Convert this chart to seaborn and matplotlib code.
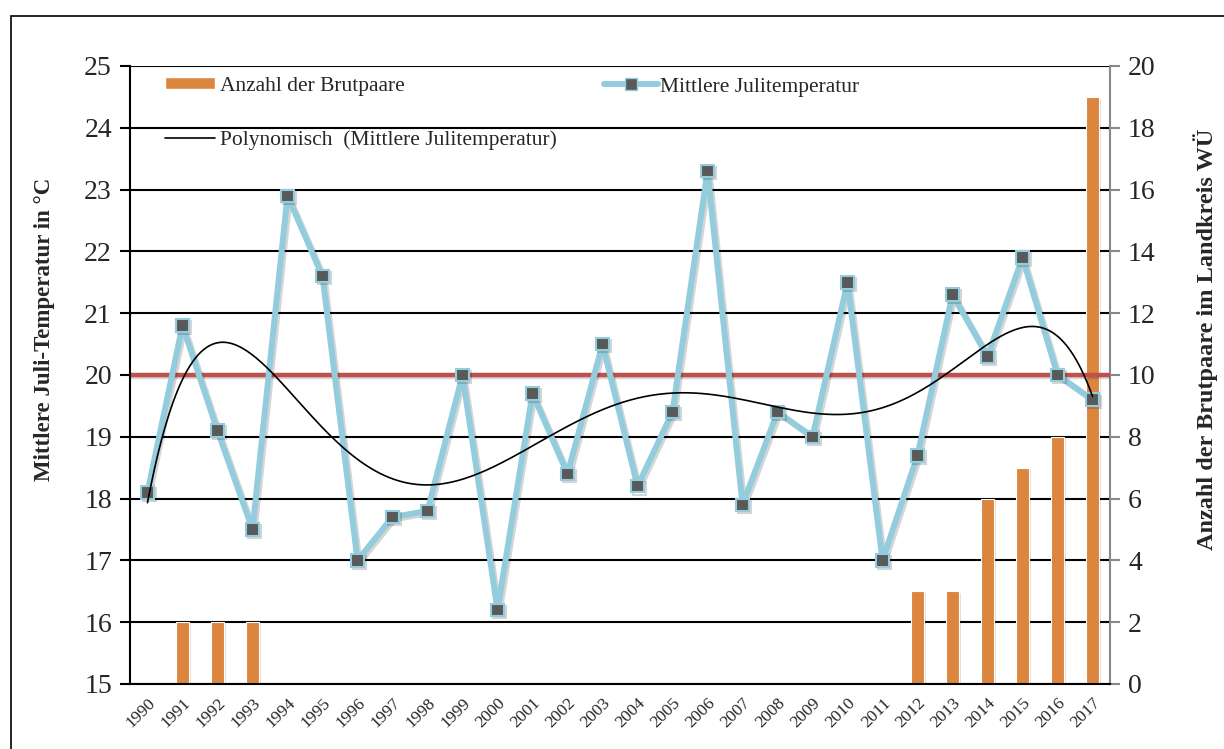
import numpy as np
import matplotlib
matplotlib.use("Agg")
import matplotlib.pyplot as plt
import matplotlib.patheffects as pe
from matplotlib.lines import Line2D
from matplotlib.patches import Patch, Rectangle
import seaborn as sns

# DATA
years = [str(y) for y in range(1990, 2018)]
temps = [18.1, 20.8, 19.1, 17.5, 22.9, 21.6, 17.0, 17.7, 17.8, 20.0,
         16.2, 19.7, 18.4, 20.5, 18.2, 19.4, 23.3, 17.9, 19.4, 19.0,
         21.5, 17.0, 18.7, 21.3, 20.3, 21.9, 20.0, 19.6]
pairs = [0, 2, 2, 2, 0, 0, 0, 0, 0, 0,
         0, 0, 0, 0, 0, 0, 0, 0, 0, 0,
         0, 0, 3, 3, 6, 7, 8, 19]
reference_temp = 20.0

BAR_COLOR = "#DC853F"
LINE_COLOR = "#93CDDD"
MARKER_COLOR = "#595959"
RED = "#C0504D"

sns.set_theme(style="white")
plt.rcParams["font.family"] = ["Liberation Serif", "DejaVu Serif"]

fig = plt.figure(figsize=(12.24, 7.49), dpi=100)
ax = fig.add_axes([0.1062, 0.0868, 0.8007, 0.8251])
ax2 = ax.twinx()
ax.set_zorder(ax2.get_zorder() + 1)
ax.patch.set_visible(False)

idx = np.arange(len(years))
shadow = [pe.SimpleLineShadow(offset=(1.5, -1.5), alpha=0.18), pe.Normal()]

# bars (right axis) with black grid behind them
sns.barplot(x=years, y=pairs, ax=ax2, color=BAR_COLOR, width=0.39,
            saturation=1, edgecolor="white", linewidth=0.8)
for bar in ax2.patches:
    bar.set_path_effects([pe.SimplePatchShadow(offset=(1.5, -1.5), alpha=0.15), pe.Normal()])
ax2.set_ylim(0, 20)
ax2.set_yticks(range(0, 21, 2))
ax2.set_axisbelow(True)
ax2.yaxis.grid(True, color="black", linewidth=1.5)
ax2.xaxis.grid(False)

# temperature line + trend (left axis)
ax.axhline(reference_temp, color=RED, linewidth=3.2, zorder=2, path_effects=shadow)
sns.lineplot(x=idx, y=temps, ax=ax, color=LINE_COLOR, linewidth=4.3,
             marker="s", markersize=9, markerfacecolor=MARKER_COLOR,
             markeredgecolor=LINE_COLOR, markeredgewidth=1.5, zorder=3)
ax.lines[-1].set_path_effects(shadow)
coef = np.polyfit(idx, temps, 6)
xs = np.linspace(0, len(years) - 1, 400)
ax.plot(xs, np.polyval(coef, xs), color="black", linewidth=1.2, zorder=4)

ax.set_ylim(15, 25)
ax.set_yticks(range(15, 26))
ax.set_xlim(-0.5, len(years) - 0.5)
ax2.set_xlim(-0.5, len(years) - 0.5)

# x ticks: labels at centres, tick marks at boundaries
ax.set_xticks(idx)
ax.set_xticklabels(years, rotation=45, ha="right", rotation_mode="anchor", fontsize=12.5)
ax.set_xticks(np.arange(-0.5, len(years)), minor=True)
ax.tick_params(axis="x", which="major", length=0, pad=8)
ax.tick_params(axis="x", which="minor", length=6, width=1.5, color="black", direction="out")
ax2.tick_params(axis="x", which="both", length=0, labelbottom=False)
ax.tick_params(axis="y", length=7, width=1.5, color="black", direction="out",
               labelsize=20, pad=6, left=True)
ax2.tick_params(axis="y", length=7, width=1.5, color="#888888", direction="out",
                labelsize=20, pad=6, right=True)

for s in ["top", "right"]:
    ax.spines[s].set_visible(False)
for s in ["top", "left", "bottom"]:
    ax2.spines[s].set_visible(False)
ax.spines["left"].set_color("black")
ax.spines["left"].set_linewidth(1.5)
ax.spines["bottom"].set_color("black")
ax.spines["bottom"].set_linewidth(1.5)
ax2.spines["right"].set_color("#888888")
ax2.spines["right"].set_linewidth(1.5)

ax.set_xlabel("")
ax2.set_xlabel("")
ax.set_ylabel("Mittlere Juli-Temperatur in °C", fontsize=16.5, fontweight="bold")
ax.yaxis.set_label_coords(-0.0765, 0.573)
ax2.set_ylabel("Anzahl der Brutpaare im Landkreis WÜ", fontsize=17.5, fontweight="bold",
               rotation=90)
ax2.yaxis.set_label_coords(1.0847, 0.557)

# legends
h_bar = Patch(facecolor=BAR_COLOR, edgecolor="white")
h_poly = Line2D([], [], color="black", linewidth=1.2)
h_temp = Line2D([], [], color=LINE_COLOR, linewidth=4.3, marker="s", markersize=9,
                markerfacecolor=MARKER_COLOR, markeredgecolor=LINE_COLOR)
leg1 = ax.legend([h_bar, h_poly], ["Anzahl der Brutpaare", "Polynomisch  (Mittlere Julitemperatur)"],
                 loc="upper left", bbox_to_anchor=(0.025, 1.0), frameon=False, fontsize=15.5,
                 handlelength=2.3, handletextpad=0.25, labelspacing=1.6, borderaxespad=0.1,
                 handleheight=0.5)
ax.add_artist(leg1)
ax.legend([h_temp], ["Mittlere Julitemperatur"], loc="upper left",
          bbox_to_anchor=(0.473, 1.0), frameon=False, fontsize=15.5,
          handlelength=2.5, handletextpad=0.1, borderaxespad=0.1)

# outer frame
fig.add_artist(Rectangle((11 / 1224, -0.1), 1.2, 1 - 16 / 749 + 0.1, fill=False,
                         edgecolor="black", linewidth=1.2, transform=fig.transFigure))

fig.savefig("out.png", dpi=100)
